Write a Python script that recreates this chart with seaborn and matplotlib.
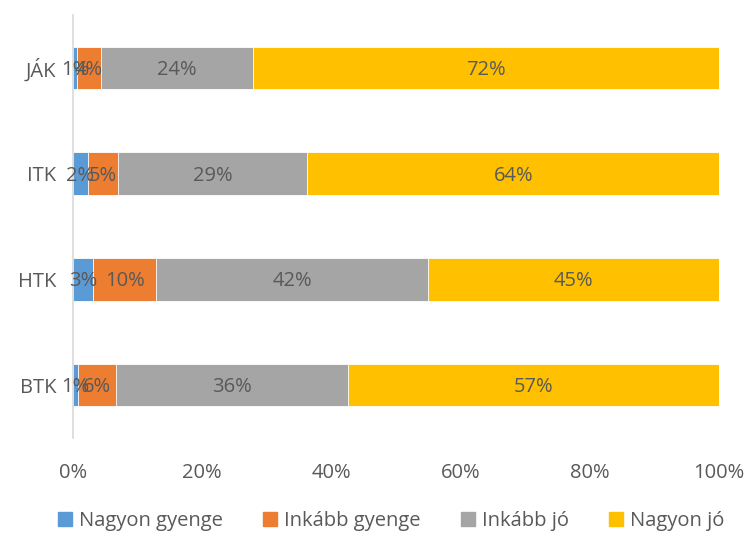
import numpy as np
import pandas as pd
import matplotlib
matplotlib.use("Agg")
import matplotlib.pyplot as plt
import matplotlib.patches as mpatches
import seaborn as sns

# ── Data ──────────────────────────────────────────────────
categories = ["JÁK", "ITK", "HTK", "BTK"]
series = ["Nagyon gyenge", "Inkább gyenge", "Inkább jó", "Nagyon jó"]
nagyon_gyenge = [0.6, 2.3, 3.1, 0.8]
inkabb_gyenge = [3.7, 4.6, 9.8, 5.9]
inkabb_jo = [23.6, 29.4, 42.0, 35.9]
nagyon_jo = [72.1, 63.7, 45.1, 57.4]
labels = [
    ["1%", "4%", "24%", "72%"],
    ["2%", "5%", "29%", "64%"],
    ["3%", "10%", "42%", "45%"],
    ["1%", "6%", "36%", "57%"],
]
xticks = [0, 20, 40, 60, 80, 100]

COLORS = ["#5B9BD5", "#ED7D31", "#A5A5A5", "#FFC000"]
TEXT = "#595959"
FS = 14.5

sns.set_theme(style="white")
plt.rcParams["font.family"] = ["Open Sans", "DejaVu Sans"]

df = pd.DataFrame({"cat": categories,
                   series[0]: nagyon_gyenge,
                   series[1]: inkabb_gyenge,
                   series[2]: inkabb_jo,
                   series[3]: nagyon_jo})
cum = df[series].cumsum(axis=1)

fig = plt.figure(figsize=(7.55, 5.34), dpi=100)
ax = fig.add_axes([73 / 755, 1 - 438 / 534, (719 - 73) / 755, (438 - 15) / 534])

# draw widest cumulative first so narrower ones sit on top
for i in range(len(series) - 1, -1, -1):
    sns.barplot(x=cum[series[i]], y=df["cat"], orient="h", ax=ax,
                color=COLORS[i], width=0.4, edgecolor="white", linewidth=0.6,
                saturation=1)

for r in range(len(categories)):
    for i, s in enumerate(series):
        xc = cum.loc[r, s] - df.loc[r, s] / 2
        ax.text(xc, r + 0.02, labels[r][i], ha="center", va="center",
                fontsize=FS, color=TEXT)

ax.set_xlim(0, 100)
ax.set_ylim(3.5, -0.5)
ax.set_xticks(xticks)
ax.set_xticklabels([f"{t}%" for t in xticks])
ax.set_xlabel("")
ax.set_ylabel("")
ax.tick_params(axis="x", length=0, pad=18, labelsize=FS, labelcolor=TEXT)
ax.tick_params(axis="y", length=0, pad=12, labelsize=FS, labelcolor=TEXT)
for side in ["top", "right", "bottom"]:
    ax.spines[side].set_visible(False)
ax.spines["left"].set_color("#D9D9D9")
ax.spines["left"].set_linewidth(1.2)

handles = [mpatches.Patch(color=c, label=s) for c, s in zip(COLORS, series)]
leg = fig.legend(handles=handles, loc="center", bbox_to_anchor=(0.518, 1 - 521 / 534),
                 ncol=4, frameon=False, fontsize=FS, handlelength=0.7,
                 handleheight=0.7, handletextpad=0.35, columnspacing=2.0)
for t in leg.get_texts():
    t.set_color(TEXT)

fig.savefig("out.png", dpi=100)
